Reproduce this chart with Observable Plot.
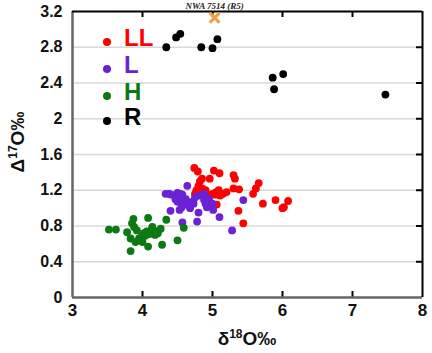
<!DOCTYPE html>
<html><head><meta charset="utf-8">
<script src="https://cdn.jsdelivr.net/npm/d3@7"></script>
<script src="https://cdn.jsdelivr.net/npm/@observablehq/plot@0.6"></script>
<style>
body{margin:0;background:#fff;}
#wrap{position:relative;width:432px;height:353px;font-family:"Liberation Sans",Arial,sans-serif;}
.leg{position:absolute;display:flex;align-items:center;}
.leg .d{width:8px;height:8px;border-radius:50%;}
.leg .t{position:absolute;left:21px;font-size:24px;font-weight:bold;line-height:1;top:-12px;}
</style>
</head><body><div id="wrap"></div>
<script>
const xTicks = [3,4,5,6,7,8];
const yTicks = [0,0.4,0.8,1.2,1.6,2,2.4,2.8,3.2];
const yTickLabels = ["0","0.4","0.8","1.2","1.6","2","2.4","2.8","3.2"];
const series = ["LL","L","H","R"];
const colors = ["#ff0000","#6a22d4","#0b7a12","#000000"];

const LL_x = [4.74,4.79,4.85,4.96,5.02,5.10,5.30,5.32,4.80,4.77,4.75,4.85,4.92,5.00,5.05,5.09,5.11,5.15,5.04,5.06,5.30,5.38,5.37,5.44,5.58,5.62,5.66,5.72,5.90,6.00,6.02,6.08,4.82,5.20,4.90];
const LL_y = [1.45,1.41,1.33,1.33,1.42,1.39,1.37,1.33,1.25,1.20,1.16,1.22,1.15,1.16,1.18,1.20,1.14,1.16,1.15,1.04,1.22,1.21,0.97,0.83,1.16,1.22,1.28,1.05,1.09,1.00,1.01,1.08,1.30,1.18,1.20];
const L_x = [4.33,4.38,4.41,4.64,4.50,4.54,4.57,4.52,4.56,4.47,4.50,4.59,4.62,4.64,4.59,4.40,4.53,4.56,4.66,4.71,4.73,4.68,4.80,4.57,4.78,4.80,4.85,4.88,4.88,4.92,4.95,5.00,5.01,4.90,5.10,5.44,5.28,4.75];
const L_y = [1.16,1.16,1.15,1.25,1.17,1.16,1.15,1.13,1.12,1.10,1.07,1.08,1.10,1.05,1.05,0.97,0.98,1.01,1.03,1.07,1.05,1.00,0.95,0.84,0.85,1.14,1.14,1.16,1.09,1.01,1.10,1.05,0.98,1.05,0.90,1.09,0.75,1.12];
const H_x = [3.52,3.62,3.78,3.83,3.83,3.85,3.87,3.88,3.92,3.95,3.96,3.99,4.02,4.04,4.06,4.08,4.08,4.10,4.13,4.14,4.16,4.18,4.20,4.22,4.26,4.28,4.34,4.50,4.59,3.90,4.00];
const H_y = [0.76,0.76,0.73,0.66,0.52,0.83,0.88,0.79,0.75,0.66,0.64,0.68,0.72,0.69,0.74,0.89,0.57,0.71,0.76,0.79,0.72,0.70,0.74,0.72,0.77,0.59,0.87,0.64,0.78,0.62,0.62];
const R_x = [4.34,4.48,4.54,4.84,5.00,5.07,5.86,6.01,5.88,7.47];
const R_y = [2.80,2.91,2.95,2.80,2.79,2.89,2.46,2.50,2.33,2.27];
const special_x = [5.03];
const special_y = [3.13];
const special_label = ["NWA 7514 (R5)"];

const pts = [];
[[LL_x,LL_y,"LL"],[L_x,L_y,"L"],[H_x,H_y,"H"],[R_x,R_y,"R"]].forEach(([xs,ys,s])=>xs.forEach((x,i)=>pts.push({x,y:ys[i],s})));
const special = special_x.map((x,i)=>({x,y:special_y[i],label:special_label[i]}));
const innerY = yTicks.filter(d=>d>0&&d<3.2);
const innerX = xTicks.filter(d=>d>3&&d<8);

const W = 432, H = 353, mL = 72, mR = 10, mT = 11, mB = 56;
const fw = W - mL - mR, fh = H - mT - mB, tk = 6;

const chart = Plot.plot({
  width:W, height:H,
  marginLeft:mL, marginRight:mR, marginTop:mT, marginBottom:mB,
  style:{fontFamily:"Liberation Sans, Arial, sans-serif", background:"#fff"},
  x:{domain:[3,8]},
  y:{domain:[0,3.2]},
  color:{domain:series, range:colors},
  marks:[
    Plot.gridY(innerY, {stroke:"#d8d8d8", strokeOpacity:1, strokeWidth:1.5}),
    Plot.axisY(yTicks, {anchor:"left", tickSize:0, tickPadding:10, tickFormat:(d,i)=>yTickLabels[i], fontSize:16, fontWeight:"bold", fill:"#111", label:null}),
    Plot.axisX(xTicks, {anchor:"bottom", tickSize:0, tickPadding:6, fontSize:17, fontWeight:"bold", fill:"#111", label:null}),
    Plot.tickY(innerY, {y:d=>d, insetLeft:fw - tk, stroke:"#000", strokeWidth:2}),
    Plot.tickX(innerX, {x:d=>d, insetTop:fh - tk, stroke:"#000", strokeWidth:2}),
    Plot.tickX(innerX, {x:d=>d, insetBottom:fh - tk, stroke:"#000", strokeWidth:2}),
    Plot.ruleX([3], {stroke:"#666", strokeWidth:2.5}),
    Plot.ruleY([0], {stroke:"#666", strokeWidth:2.5}),
    Plot.ruleX([8], {stroke:"#000", strokeWidth:2}),
    Plot.ruleY([3.2], {stroke:"#000", strokeWidth:2}),
    Plot.dot(pts, {x:"x", y:"y", fill:"s", r:3.9}),
    Plot.dot(special, {x:"x", y:"y", symbol:"times", stroke:"#f0a040", strokeWidth:3, r:4.5}),
    Plot.text(special, {x:"x", y:"y", text:"label", dy:-12, fontSize:9, fontStyle:"italic", fontWeight:"bold", fontFamily:"Liberation Serif, Times New Roman, serif", fill:"#222"})
  ]
});
const wrap = document.getElementById("wrap");
wrap.appendChild(chart);

const svg = d3.select(chart);
const xt = svg.append("text").attr("x", 247).attr("y", 345).attr("text-anchor","middle")
  .attr("font-size", 19).attr("font-weight","bold").attr("fill","#111").attr("font-family","Liberation Sans, Arial, sans-serif");
xt.append("tspan").text("δ");
xt.append("tspan").attr("dy",-7).attr("font-size",12).text("18");
xt.append("tspan").attr("dy",7).text("O‰");
const yt = svg.append("text").attr("transform","translate(24,142) rotate(-90)").attr("text-anchor","middle")
  .attr("font-size", 19).attr("font-weight","bold").attr("fill","#111").attr("font-family","Liberation Sans, Arial, sans-serif");
yt.append("tspan").text("Δ");
yt.append("tspan").attr("dy",-7).attr("font-size",12).text("17");
yt.append("tspan").attr("dy",7).text("O‰");

const legTop = [42,69,96,121];
series.forEach((s,i)=>{
  const d = document.createElement("div");
  d.className = "leg";
  d.style.left = (107-4)+"px";
  d.style.top = (legTop[i]-4)+"px";
  d.innerHTML = `<div class="d" style="background:${colors[i]}"></div><div class="t" style="color:${colors[i]}">${s}</div>`;
  wrap.appendChild(d);
});
</script>
</body></html>
